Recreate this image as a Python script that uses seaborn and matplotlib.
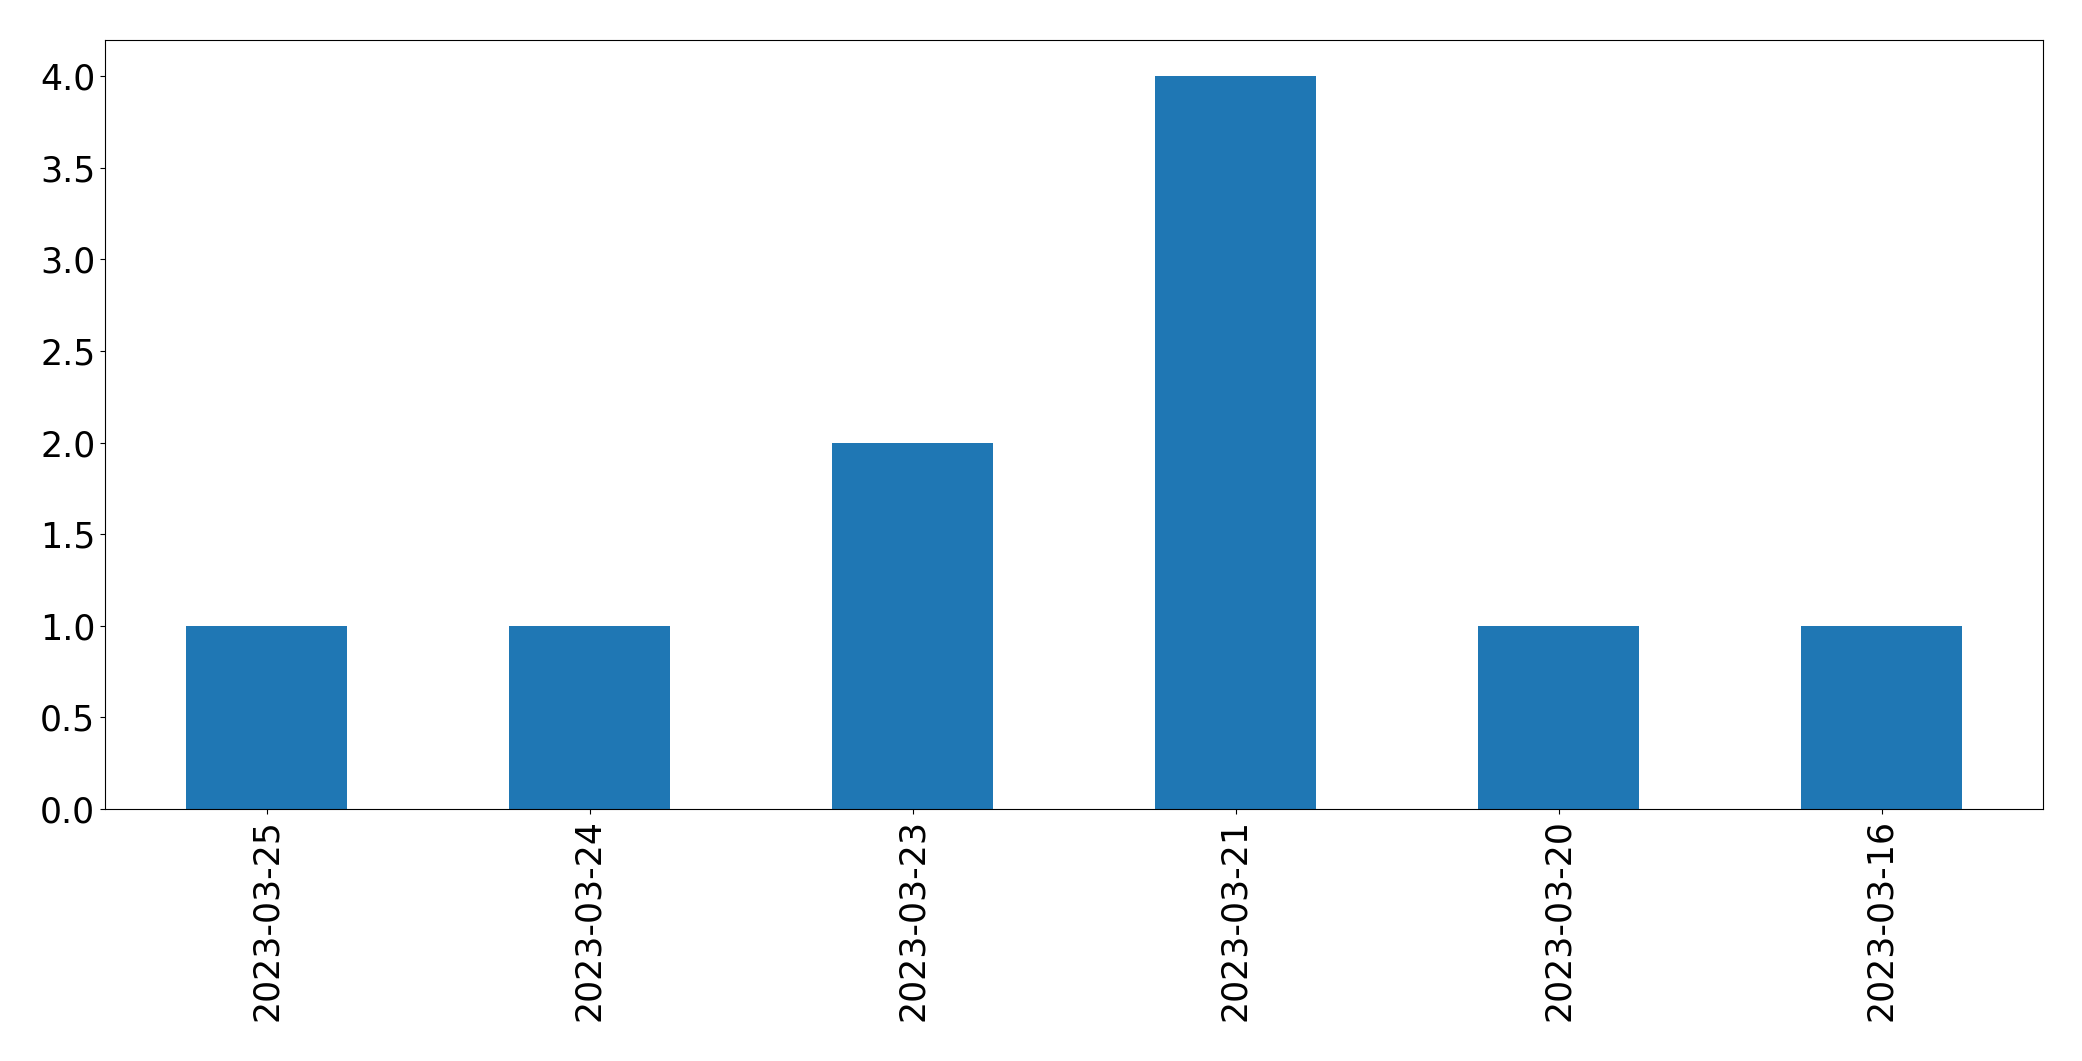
import matplotlib
matplotlib.use("Agg")
import matplotlib.pyplot as plt
import seaborn as sns
import pandas as pd

dates = ["2023-03-25", "2023-03-24", "2023-03-23", "2023-03-21", "2023-03-20", "2023-03-16"]
counts = [1, 1, 2, 4, 1, 1]

df = pd.DataFrame({"date": dates, "count": counts})

fig = plt.figure(figsize=(20.82, 10.61), dpi=100)
ax = fig.add_axes([105 / 2082, 1 - 809 / 1061, (2043 - 105) / 2082, (809 - 39.5) / 1061])
sns.barplot(data=df, x="date", y="count", color="#1f77b4", saturation=1, width=0.5, ax=ax)
ax.set_xlim(-0.5, 5.5)
ax.set_ylim(0, 4.2)
ax.set_yticks([0, 0.5, 1, 1.5, 2, 2.5, 3, 3.5, 4])
ax.set_yticklabels([f"{v:.1f}" for v in [0, 0.5, 1, 1.5, 2, 2.5, 3, 3.5, 4]])
ax.set_xlabel("")
ax.set_ylabel("")
for s in ax.spines.values():
    s.set_color("black")
ax.tick_params(axis="both", labelsize=25, color="black")
plt.setp(ax.get_xticklabels(), rotation=90)
fig.savefig("out.png", dpi=100)
